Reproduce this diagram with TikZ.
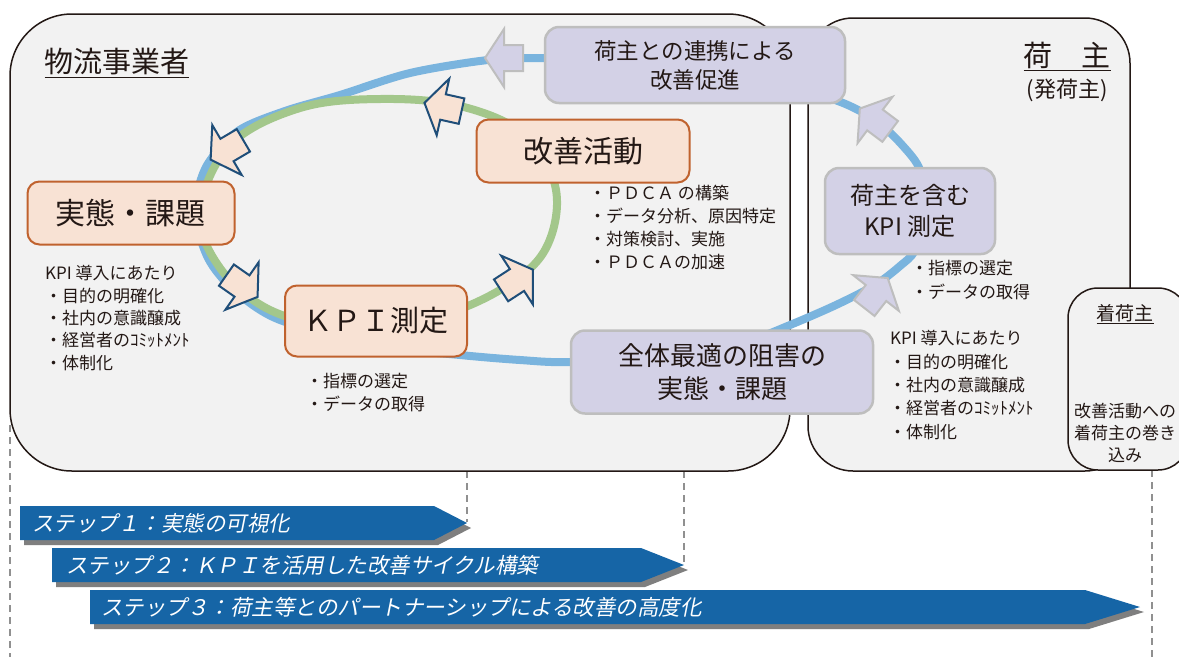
\documentclass[tikz,border=0pt]{standalone}
\usepackage{fontspec}
\setmainfont{Noto Sans CJK JP}
\newfontfamily\stepfont{Noto Sans CJK JP}[FakeSlant=0.2]
\usetikzlibrary{calc}
\definecolor{ink}{HTML}{231815}
\definecolor{bgbox}{HTML}{F2F2F2}
\definecolor{peach}{HTML}{F8E2D4}
\definecolor{peachline}{HTML}{C0622E}
\definecolor{lav}{HTML}{D3D1E6}
\definecolor{lavline}{HTML}{BEBEBE}
\definecolor{loopblue}{HTML}{7AB4DE}
\definecolor{loopgreen}{HTML}{A3C78B}
\definecolor{arrline}{HTML}{1F4E79}
\definecolor{stepblue}{HTML}{1665A6}
\definecolor{stepshadow}{HTML}{7F7F7F}
\definecolor{dashgrey}{HTML}{909090}
\tikzset{
  peachbox/.style={draw=peachline, fill=peach, line width=2pt, rounded corners=12pt, inner sep=0pt, align=center, text=ink},
  lavbox/.style={draw=lavline, fill=lav, line width=2.5pt, rounded corners=14pt, inner sep=0pt, align=center, text=ink},
  bigbox/.style={draw=ink, fill=bgbox, line width=1.5pt},
  listtext/.style={anchor=west, inner sep=0pt, text=ink, font=\fontsize{17}{20}\selectfont},
  titletext/.style={inner sep=0pt, text=ink},
  arrpeach/.style={draw=arrline, fill=peach, line width=2pt, line join=miter},
  arrlav/.style={draw=lavline, fill=lav, line width=2pt, line join=miter},
  guide/.style={draw=dashgrey, line width=1.2pt, dash pattern=on 7pt off 5pt},
  steptext/.style={anchor=west, text=white, inner sep=0pt, font=\stepfont\fontsize{21.5}{24}\selectfont},
}
\newcommand\blockarrow[4]{%
  \begin{scope}[shift={(#2,#3)}, rotate={-(#4)}]
    \path[#1] (19,0) -- (0,29) -- (0,13) -- (-19,13) -- (-19,-13) -- (0,-13) -- (0,-29) -- cycle;
  \end{scope}}
\begin{document}
\begin{tikzpicture}[x=1pt, y=-1pt]
\useasboundingbox (0,0) rectangle (1179,657);
\fill[white] (0,0) rectangle (1179,657);

% guide lines
\draw[guide] (10,425) -- (10,657);
\draw[guide] (467,471) -- (467,522);
\draw[guide] (684,471) -- (684,565);
\draw[guide] (1152,470) -- (1152,657);

% big frames
\path[bigbox, rounded corners=62pt] (10,14) rectangle (790,471);
\path[bigbox, rounded corners=45pt] (808,18) rectangle (1130,471);
\path[bigbox, rounded corners=30pt] (1068,288) rectangle (1188,470);

% step arrows
\fill[stepshadow] (24,511) -- (438,511) -- (471,528) -- (438,545) -- (24,545) -- cycle;
\fill[stepblue] (20,506) -- (434,506) -- (467,523) -- (434,540) -- (20,540) -- cycle;
\fill[stepshadow] (56,553) -- (645,553) -- (688,570) -- (645,587) -- (56,587) -- cycle;
\fill[stepblue] (52,548) -- (641,548) -- (684,565) -- (641,582) -- (52,582) -- cycle;
\fill[stepshadow] (94,595) -- (1089,595) -- (1144,612) -- (1089,629) -- (94,629) -- cycle;
\fill[stepblue] (90,590) -- (1085,590) -- (1140,607) -- (1085,624) -- (90,624) -- cycle;
\node[steptext] (s1) at (32,523) {ステップ１：実態の可視化};
\node[steptext] (s2) at (66,565) {ステップ２：ＫＰＩを活用した改善サイクル構築};
\node[steptext] (s3) at (101,607) {ステップ３：荷主等とのパートナーシップによる改善の高度化};

% blue loop
\draw[loopblue, line width=8pt] plot[smooth cycle, tension=0.5] coordinates {
 (600,58) (545,58) (488,60) (410,73) (340,95) (285,111) (238,131) (206,167)
 (195,212) (208,258) (234,290) (280,320) (380,346) (460,355) (520,360) (571,362)
 (680,355) (750,340) (790,325) (836,305) (875,285) (900,266) (915,250) (925,210)
 (920,170) (903,146) (878,122) (850,106) (820,95) (760,78) (680,62)};

% green cycle
\draw[loopgreen, line width=8pt] plot[smooth cycle, tension=0.6] coordinates {
 (200,212) (230,145) (300,108) (380,99) (460,106) (525,135) (556,190)
 (545,250) (500,290) (430,318) (340,326) (270,310) (220,268)};

% boxes
\node[lavbox, minimum width=300pt, minimum height=76pt, font=\fontsize{22.5}{29}\selectfont] (renkei) at (695,65) {荷主との連携による\\改善促進};
\node[peachbox, minimum width=213pt, minimum height=63pt, font=\fontsize{30}{36}\selectfont] (kaizen) at (583,151) {改善活動};
\node[peachbox, minimum width=207pt, minimum height=63pt, font=\fontsize{30}{36}\selectfont] (jittai) at (131,213) {実態・課題};
\node[peachbox, minimum width=182pt, minimum height=71pt, font=\fontsize{29}{34}\selectfont] (kpi) at (376,321) {ＫＰＩ測定};
\node[lavbox, minimum width=302pt, minimum height=83pt, font=\fontsize{26}{33}\selectfont] (zentai) at (722,372) {全体最適の阻害の\\実態・課題};
\node[lavbox, minimum width=170pt, minimum height=86pt, font=\fontsize{24}{31}\selectfont] (ninushikpi) at (910,211) {荷主を含む\\KPI 測定};

% block arrows on the cycle
\blockarrow{arrpeach}{443}{107}{192.5}
\blockarrow{arrpeach}{227}{150}{149.5}
\blockarrow{arrpeach}{242}{286}{35}
\blockarrow{arrpeach}{517}{280}{-33}
\blockarrow{arrlav}{504}{58}{180}
\blockarrow{arrlav}{875}{120}{217}
\blockarrow{arrlav}{876}{293}{-52}

% titles
\node[titletext, font=\fontsize{29}{34}\selectfont] (lhead) at (117,63) {\underline{物流事業者}};
\node[titletext, font=\fontsize{29}{34}\selectfont] (rhead) at (1067,56) {\underline{荷　主}};
\node[titletext, font=\fontsize{22}{26}\selectfont] (rsub) at (1067,90) {(発荷主)};
\node[titletext, font=\fontsize{19}{22}\selectfont] (chead) at (1125,314) {\underline{着荷主}};
\node[titletext, font=\fontsize{17}{20}\selectfont] (c1) at (1125,411) {改善活動への};
\node[titletext, font=\fontsize{17}{20}\selectfont] (c2) at (1125,433) {着荷主の巻き};
\node[titletext, font=\fontsize{17}{20}\selectfont] (c3) at (1125,455) {込み};

% lists
\node[listtext] (p1) at (589,193) {・ＰＤＣＡ の構築};
\node[listtext] (p2) at (589,216) {・データ分析、原因特定};
\node[listtext] (p3) at (589,239) {・対策検討、実施};
\node[listtext] (p4) at (589,262) {・ＰＤＣＡの加速};

\node[listtext] (k1) at (45,273) {KPI 導入にあたり};
\node[listtext] (k2) at (45,296) {・目的の明確化};
\node[listtext] (k3) at (45,318) {・社内の意識醸成};
\node[listtext] (k4) at (45,340) {・経営者のｺﾐｯﾄﾒﾝﾄ};
\node[listtext] (k5) at (45,363) {・体制化};

\node[listtext] (m1) at (306,381) {・指標の選定};
\node[listtext] (m2) at (306,404) {・データの取得};

\node[listtext] (n1) at (911,268) {・指標の選定};
\node[listtext] (n2) at (911,292) {・データの取得};

\node[listtext] (r1) at (890,338) {KPI 導入にあたり};
\node[listtext] (r2) at (889,362) {・目的の明確化};
\node[listtext] (r3) at (889,385) {・社内の意識醸成};
\node[listtext] (r4) at (889,408) {・経営者のｺﾐｯﾄﾒﾝﾄ};
\node[listtext] (r5) at (889,432) {・体制化};
\end{tikzpicture}
\end{document}
